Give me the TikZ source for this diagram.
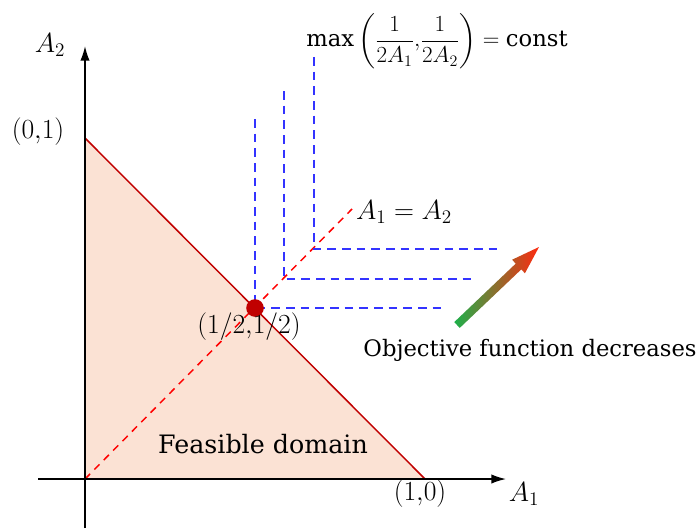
\documentclass[tikz,border=0pt]{standalone}
\usepackage{amsmath}
\usepackage{fontspec}
\setmainfont{DejaVu Serif}
\usetikzlibrary{arrows.meta,calc}
\definecolor{DomFill}{HTML}{FBE2D4}
\definecolor{DomRed}{HTML}{C00000}
\definecolor{LevBlue}{HTML}{3333FF}
\definecolor{ArrGreen}{HTML}{1DB04A}
\definecolor{ArrRed}{HTML}{FF2A10}

\begin{document}
\begin{tikzpicture}[x=.75pt,y=-.75pt,font=\fontsize{17}{20}\selectfont,
 line width=.9pt,>=Latex,every node/.style={inner sep=1pt},
 mathlab/.style={font=\fontsize{19.5}{23}\selectfont},
 axis/.style={->,line width=1.1pt,>={Latex[length=11pt,width=7pt]}},
 levelset/.style={LevBlue,line width=1.1pt,dash pattern=on 6.5pt off 4.5pt},
 diagline/.style={red,line width=1.1pt,dash pattern=on 5.5pt off 4.5pt}]
\useasboundingbox (0,0) rectangle (698,528);
% feasible domain
\coordinate (O) at (85,479);
\coordinate (P01) at (85,138);
\coordinate (P10) at (425,479);
\coordinate (Pm) at (255,308);
\fill[DomFill] (O)--(P01)--(P10)--cycle;
\draw[DomRed,line width=1.1pt] (P01)--(P10);
% A1 = A2
\coordinate (D) at (352,209);
\draw[diagline] (O)--(D);
\node[mathlab] (eqlab) at (404,212) {$A_1=A_2$};
% axes
\coordinate (xs) at (38,479);
\coordinate (xe) at (506,479);
\coordinate (ys) at (85,528);
\coordinate (ye) at (85,46);
\draw[axis] (xs)--(xe);
\draw[axis] (ys)--(ye);
\node[mathlab] (A1) at (524,494) {$A_1$};
\node[mathlab] (A2) at (50,45) {$A_2$};
\node[mathlab] (l01) at (38,132) {$(0{,}1)$};
\node[mathlab] (l10) at (420,494) {$(1{,}0)$};
% level sets of the objective
\foreach \d/\top in {0/119,29/91,59/57}{
 \coordinate (c\d) at ({255+\d},{308-\d});
 \draw[levelset] ({255+\d},\top)--(c\d)--({444+\d},{308-\d});
}
\node (maxlab) at (437,41) {$\max\left(\dfrac{1}{2A_1}{,}\dfrac{1}{2A_2}\right)=\text{const}$};
% optimum
\fill[DomRed] (Pm) circle[radius=6.6pt];
\node[mathlab] (lm) at (249,327) {$(1/2{,}1/2)$};
\node[font=\fontsize{19}{22}\selectfont] (feas) at (263,444) {Feasible domain};
% direction of decrease
\coordinate (as) at (457,325);
\coordinate (ae) at (539,247);
\coordinate (ah) at ($(as)!0.75!(ae)$);
\shade[left color=ArrGreen,right color=ArrRed]
 ($(as)!3pt!90:(ae)$)--($(ah)!3pt!90:(ae)$)--($(ah)!7pt!90:(ae)$)--(ae)
 --($(ah)!7pt!-90:(ae)$)--($(ah)!3pt!-90:(ae)$)--($(as)!3pt!-90:(ae)$)--cycle;
\node (objlab) at (530,350) {Objective function decreases};
\end{tikzpicture}
\end{document}
